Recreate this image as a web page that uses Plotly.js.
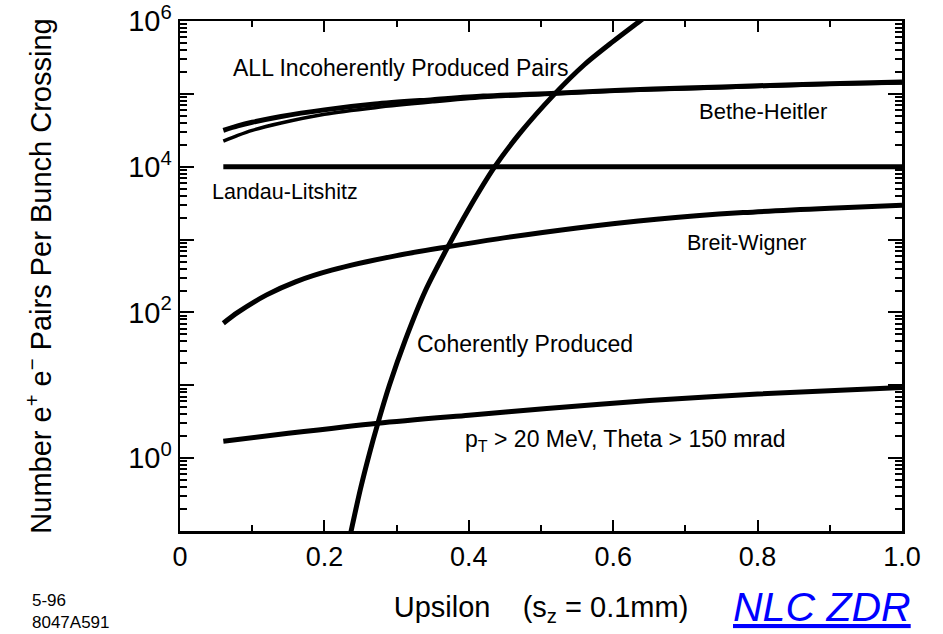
<!DOCTYPE html>
<html>
<head>
<meta charset="utf-8">
<script src="https://cdn.plot.ly/plotly-3.0.1.min.js"></script>
<style>html,body{margin:0;padding:0;background:#fff;}#chart{width:943px;height:634px;}</style>
</head>
<body>
<div id="chart"></div>
<script>
// ---- data ----
const allX = [0.06,0.08,0.10,0.14,0.20,0.27,0.35,0.42,0.52,0.61,0.70,0.80,0.90,1.0];
const allY = [31600,36300,40700,49000,60300,72400,83200,93300,102000,112000,120000,129000,138000,145000];

const bhX = [0.06,0.08,0.10,0.14,0.20,0.27,0.35,0.42,0.52,0.61,0.70,0.80,0.90,1.0];
const bhY = [22400,26900,31600,39800,52500,64600,77600,89100,100000,110000,117000,126000,135000,141000];

const llX = [0.06,1.0];
const llY = [10000,10000];

const bwX = [0.06,0.08,0.12,0.16,0.21,0.30,0.37,0.44,0.55,0.66,0.78,0.90,1.0];
const bwY = [71,100,174,263,380,603,794,1023,1445,1905,2344,2692,2951];

const ptX = [0.06,0.15,0.274,0.40,0.508,0.65,0.80,1.0];
const ptY = [1.70,2.19,3.02,3.89,4.79,6.17,7.59,9.33];

const cohX = [0.236,0.25,0.262,0.274,0.29,0.312,0.34,0.371,0.40,0.436,0.47,0.519,0.56,0.60,0.637,0.645];
const cohY = [0.09,0.38,1.12,3.0,10,41.7,200,794,2630,10000,28200,100000,251000,525000,1000000,1150000];

const xTickVals = [0,0.2,0.4,0.6,0.8,1.0];
const xTickText = ['0','0.2','0.4','0.6','0.8','1.0'];
const yTickVals = [0.1,1,10,100,1e3,1e4,1e5,1e6];
const yTickText = ['','10<sup>0</sup>','','10<sup>2</sup>','','10<sup>4</sup>','','10<sup>6</sup>'];

// ---- chart ----
const FONT = 'Liberation Sans, Arial, sans-serif';
const NARROW = 'Liberation Sans Narrow, Liberation Sans, Arial, sans-serif';
function line(x, y, w) {
  return {x: x, y: y, type: 'scatter', mode: 'lines',
    line: {color: '#000', width: w, shape: 'spline', smoothing: 0.8},
    hoverinfo: 'skip', showlegend: false};
}
const traces = [
  line(allX, allY, 5),
  line(bhX, bhY, 3.5),
  line(llX, llY, 5),
  line(bwX, bwY, 5),
  line(ptX, ptY, 5),
  line(cohX, cohY, 5)
];

function ann(text, x, y, size, extra) {
  return Object.assign({text: text, x: x, y: y, xref: 'paper', yref: 'paper',
    showarrow: false, xanchor: 'center', yanchor: 'middle',
    font: {family: FONT, size: size, color: '#000'}}, extra || {});
}
const L = 180, R = 902, T = 21, B = 531;
function px(xp) { return (xp - L) / (R - L); }
function py(yp) { return (B - yp) / (B - T); }

const layout = {
  width: 943, height: 634,
  margin: {l: L, r: 943 - R, t: T, b: 634 - B},
  paper_bgcolor: '#fff', plot_bgcolor: '#fff',
  font: {family: FONT, color: '#000'},
  showlegend: false,
  xaxis: {
    range: [0, 1], tickvals: xTickVals, ticktext: xTickText,
    ticks: 'inside', ticklen: 11, tickwidth: 2, tickcolor: '#000',
    minor: {ticks: 'inside', ticklen: 6, tickwidth: 2, dtick: 0.1, tickcolor: '#000', showgrid: false},
    showline: true, linewidth: 2.5, linecolor: '#000', mirror: 'ticks',
    showgrid: false, zeroline: false,
    tickfont: {family: NARROW, size: 27, color: '#000'},
    title: {text: 'Upsilon    (s<sub>z</sub> = 0.1mm)', font: {family: NARROW, size: 29, color: '#000'}, standoff: 26}
  },
  yaxis: {
    type: 'log', range: [-1, 6], tickvals: yTickVals, ticktext: yTickText,
    ticks: 'inside', ticklen: 14, tickwidth: 2, tickcolor: '#000',
    minor: {ticks: 'inside', ticklen: 7, tickwidth: 2, dtick: 'D1', tickcolor: '#000', showgrid: false},
    showline: true, linewidth: 2.5, linecolor: '#000', mirror: 'ticks',
    showgrid: false, zeroline: false,
    tickfont: {family: FONT, size: 29, color: '#000'},
    title: {text: 'Number e<sup>+</sup> e<sup>\u2212</sup> Pairs Per Bunch Crossing', font: {family: FONT, size: 29, color: '#000'}, standoff: 68}
  },
  annotations: [
    ann('ALL Incoherently Produced Pairs', px(400), py(68), 23),
    ann('Bethe-Heitler', px(763), py(111), 22),
    ann('Landau-Litshitz', px(285), py(192), 21.5),
    ann('Breit-Wigner', px(746), py(243), 21.5),
    ann('Coherently Produced', px(525), py(344), 23),
    ann('p<sub>T</sub> > 20 MeV, Theta > 150 mrad', px(625), py(440), 23),
    ann('<u>NLC ZDR</u>', px(822), py(607), 41, {font: {family: FONT, size: 41, color: '#0000ff', style: 'italic'}}),
    ann('5-96<br>8047A591', px(30), py(612), 17, {align: 'left', xanchor: 'left', font: {family: NARROW, size: 17, color: '#000'}})
  ]
};
Plotly.newPlot('chart', traces, layout, {staticPlot: true, displayModeBar: false});
</script>
</body>
</html>
